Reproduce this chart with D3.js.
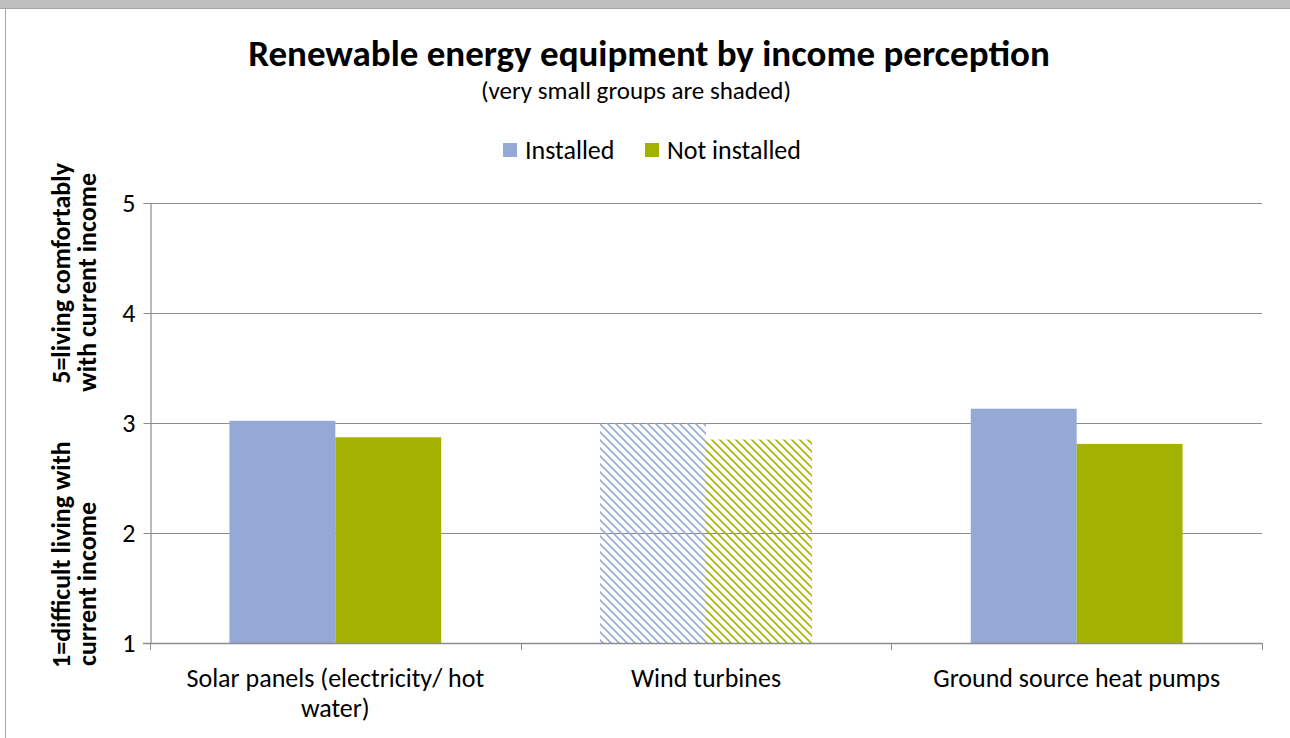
<!DOCTYPE html>
<html><head><meta charset="utf-8">
<script src="https://cdn.jsdelivr.net/npm/d3@7"></script>
<style>
html,body{margin:0;padding:0;background:#fff;}
svg{display:block;}
text{font-family:Carlito,Calibri,Lato,"Open Sans",sans-serif;fill:#000;}
</style></head>
<body>
<svg id="chart" width="1290" height="738"></svg>
<script>
const categories = ["Solar panels (electricity/ hot water)", "Wind turbines", "Ground source heat pumps"];
const seriesNames = ["Installed", "Not installed"];
const installed = [3.02, 3.00, 3.13];
const notInstalled = [2.87, 2.85, 2.81];
const shaded = [false, true, false];
const yTicks = [1, 2, 3, 4, 5];
const colors = ["#95a9d6", "#a3b200"];

const svg = d3.select("#chart");
const W = 1290, H = 738;
const m = {left: 150, right: 1262, top: 203, bottom: 643};
const FONT = "Carlito,Calibri,Lato,'Open Sans',sans-serif";

// frame
svg.append("rect").attr("x",0).attr("y",0).attr("width",W).attr("height",8).attr("fill","#bfbfbf");
svg.append("line").attr("x1",0).attr("x2",W).attr("y1",8.5).attr("y2",8.5).attr("stroke","#a6a6a6");
svg.append("line").attr("x1",5.5).attr("x2",5.5).attr("y1",8).attr("y2",H).attr("stroke","#a6a6a6");

const defs = svg.append("defs");
colors.forEach((c,i)=>{
  const p = defs.append("pattern").attr("id","hatch"+i).attr("patternUnits","userSpaceOnUse")
    .attr("width",8).attr("height",8);
  p.append("path").attr("d","M-2,-2 L10,10 M-2,6 L2,10 M6,-2 L10,2")
    .attr("stroke",c).attr("stroke-width",1.6).attr("fill","none");
});

const x0 = d3.scaleBand().domain(categories).range([m.left, m.right]).paddingInner(0).paddingOuter(0);
const y = d3.scaleLinear().domain([1,5]).range([m.bottom, m.top]);
const bw = x0.bandwidth()/3.5;
const x1 = d3.scaleBand().domain(seriesNames).range([0, bw*2]);

// gridlines
svg.append("g").selectAll("line").data(yTicks.filter(t=>t>1)).join("line")
  .attr("x1",m.left).attr("x2",m.right).attr("y1",d=>Math.round(y(d))+0.5).attr("y2",d=>Math.round(y(d))+0.5)
  .attr("stroke","#8c8c8c").attr("stroke-width",1);

// y axis
const yAxis = svg.append("g").attr("transform",`translate(${m.left+0.5},0)`)
  .call(d3.axisLeft(y).tickValues(yTicks).tickSize(7).tickPadding(8).tickFormat(d3.format("d")));
yAxis.select(".domain").attr("stroke","#8c8c8c").attr("stroke-width",1.2);
yAxis.selectAll(".tick line").attr("stroke","#8c8c8c");
yAxis.selectAll(".tick text").attr("font-size",26).attr("font-family",FONT).attr("fill","#000");

// bars
const data = categories.map((c,i)=>({cat:c, vals:[installed[i], notInstalled[i]], shaded:shaded[i]}));
const groups = svg.append("g").selectAll("g").data(data).join("g")
  .attr("transform",d=>`translate(${x0(d.cat)+x0.bandwidth()/2-bw},0)`);
groups.selectAll("rect").data(d=>d.vals.map((v,j)=>({v,j,shaded:d.shaded}))).join("rect")
  .attr("x",d=>x1(seriesNames[d.j]))
  .attr("width",x1.bandwidth())
  .attr("y",d=>y(d.v))
  .attr("height",d=>y(1)-y(d.v))
  .attr("fill",d=>d.shaded?`url(#hatch${d.j})`:colors[d.j]);

// x axis
const xAxis = svg.append("g").attr("transform",`translate(0,${m.bottom+0.5})`)
  .call(d3.axisBottom(x0).tickSize(0).tickPadding(0));
xAxis.select(".domain").remove();
xAxis.selectAll(".tick text").remove();
svg.append("line").attr("x1",m.left-7).attr("x2",m.right).attr("y1",m.bottom+0.5).attr("y2",m.bottom+0.5)
  .attr("stroke","#8c8c8c").attr("stroke-width",1.5);
const bounds = categories.map(c=>x0(c)).concat([m.right]);
svg.append("g").selectAll("line").data(bounds).join("line")
  .attr("x1",d=>Math.round(d)+0.5).attr("x2",d=>Math.round(d)+0.5)
  .attr("y1",m.bottom).attr("y2",m.bottom+7).attr("stroke","#8c8c8c");

// category labels (wrapped)
function wrapLines(txt, maxW, fs){
  const words = txt.split(" "); const lines=[]; let cur="";
  const t = svg.append("text").attr("font-size",fs);
  words.forEach(w=>{
    const test = cur? cur+" "+w : w;
    t.text(test);
    if (t.node().getComputedTextLength()>maxW && cur){ lines.push(cur); cur=w; } else cur=test;
  });
  lines.push(cur); t.remove(); return lines;
}
categories.forEach(c=>{
  const lines = wrapLines(c, 335, 26);
  const t = svg.append("text").attr("text-anchor","middle").attr("font-size",26);
  lines.forEach((l,k)=>t.append("tspan").attr("x",x0(c)+x0.bandwidth()/2).attr("y",687+k*30).text(l));
});

// titles
svg.append("text").attr("x",649).attr("y",66).attr("text-anchor","middle")
  .attr("font-size",37).attr("font-weight","bold").text("Renewable energy equipment by income perception");
svg.append("text").attr("x",636).attr("y",99).attr("text-anchor","middle")
  .attr("font-size",25).text("(very small groups are shaded)");

// y axis title
const yt = svg.append("g").attr("font-size",26).attr("font-weight","bold");
yt.append("text").attr("transform","translate(70,668) rotate(-90)").attr("text-anchor","start").attr("font-weight","bold").text("1=difficult living with");
yt.append("text").attr("transform","translate(70,163) rotate(-90)").attr("text-anchor","end").attr("font-weight","bold").text("5=living comfortably");
yt.append("text").attr("transform","translate(96,666) rotate(-90)").attr("text-anchor","start").attr("font-weight","bold").text("current income");
yt.append("text").attr("transform","translate(96,173) rotate(-90)").attr("text-anchor","end").attr("font-weight","bold").text("with current income");

// legend
const lg = svg.append("g");
const legX = [503, 645];
seriesNames.forEach((s,i)=>{
  lg.append("rect").attr("x",legX[i]).attr("y",143).attr("width",14).attr("height",14).attr("fill",colors[i]);
  lg.append("text").attr("x",legX[i]+22).attr("y",159).attr("font-size",26).text(s);
});
</script>
</body></html>
